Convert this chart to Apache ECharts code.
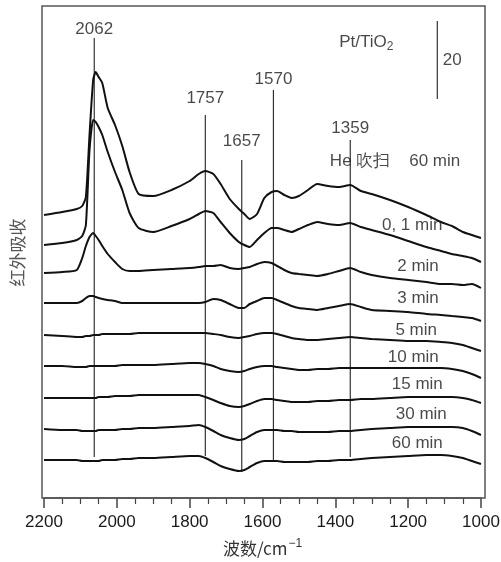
<!DOCTYPE html>
<html>
<head>
<meta charset="utf-8">
<script src="https://cdn.jsdelivr.net/npm/echarts@6/dist/echarts.min.js"></script>
<style>
html,body{margin:0;padding:0;background:#fff;}
#c{width:501px;height:562px;}
</style>
</head>
<body>
<div id="c"></div>
<script>
// Wavenumber grid (cm^-1)
const wavenumbers = [2200,2150,2110,2095,2085,2075,2065,2058,2050,2040,2025,2005,1985,1965,1940,1900,1850,1800,1775,1757,1735,1715,1690,1665,1650,1635,1615,1595,1575,1560,1540,1520,1500,1475,1450,1420,1390,1359,1330,1300,1250,1200,1150,1110,1080,1050,1025,1000];

// Offset IR absorbance traces (plot units, stacked)
const hePurge60 = [283,286,289,292,301,363,418,426,421,415,390,373,352,326,304,302,308,317,324,327,324,314,299,289,284,279,284,300,306,307,303,300,302,308,314,312,311,313,307,304,298,291,283,276,272,266,263,260];
const t0_1 = [253,255,258,262,273,348,378,376,371,363,346,326,308,285,270,266,272,279,284,287,285,276,265,256,253,251,258,265,270,270,268,266,269,273,276,274,273,275,271,268,263,257,251,247,244,242,240,236];
const t2 = [225,226,228,240,252,261,265,262,258,252,244,236,229,227,227,228,229,230,231,232,232,233,230,229,230,231,234,236,235,232,228,225,224,223,222,224,227,230,226,223,220,218,216,214,214,213,214,210];
const t3 = [195,195,195,197,200,202,202,201,200,199,198,197,195,195,195,195,195,195,195,196,199,198,194,190,190,194,197,200,200,198,195,192,190,189,188,190,192,194,191,188,187,186,184,183,182,181,180,177];
const t5 = [163,162,161,161,162,162,163,163,163,164,164,164,164,164,165,165,165,165,165,165,164,163,161,160,161,162,164,165,165,164,162,160,159,158,158,159,160,161,160,159,158,157,157,156,155,153,150,147];
const t10 = [132,132,131,131,131,132,132,132,132,132,132,132,133,133,133,133,134,135,135,134,132,129,127,126,127,129,131,132,132,131,130,129,128,128,129,129,130,130,130,130,130,130,130,130,129,127,124,120];
const t15 = [100,100,100,100,100,100,100,100,101,101,101,102,102,102,103,103,103,103,103,101,98,95,92,91,92,94,97,99,99,98,97,96,96,96,97,97,98,98,99,99,100,101,101,101,101,100,98,95];
const t30 = [69,68,68,67,67,67,67,67,68,68,68,68,69,69,70,70,71,72,73,71,67,63,60,58,59,62,66,68,68,68,67,67,66,66,66,66,67,67,68,69,70,71,71,71,71,70,67,63];
const t60 = [38,38,38,37,37,37,37,37,37,38,38,38,39,39,40,40,41,42,42,40,36,32,29,27,28,31,35,37,37,37,36,36,36,36,37,37,38,38,39,40,41,42,43,43,42,40,37,34];

const traces = [hePurge60, t0_1, t2, t3, t5, t10, t15, t30, t60];
const traceLabels = ['He 吹扫    60 min', '0, 1 min', '2 min', '3 min', '5 min', '10 min', '15 min', '30 min', '60 min'];

// Assigned bands
const peakWavenumbers = [2062, 1757, 1657, 1570, 1359];
const peakLineTop = [460, 383, 338, 408, 358];
const peakLineBottom = [41, 42, 26, 38, 41];

// Axis tick labels
const xTicks = [2200, 2000, 1800, 1600, 1400, 1200, 1000];

// Scale bar (20 units)
const scaleBarWn = 1120;
const scaleBarEnds = [399, 477];

// annotation anchor points (data coords)
const traceLabelAnchors = [[1236,337],[1189,273],[1173,232],[1173,200],[1178,168],[1186,141],[1175,114],[1164,84],[1175,55]];
const peakLabelHeights = [469, 400, 357, 419, 370];

const FONT = 'Liberation Sans, Arial, sans-serif';
const chart = echarts.init(document.getElementById('c'), null, {renderer:'canvas'});

const series = [];
traces.forEach((tr, i) => {
  series.push({
    type: 'line',
    data: wavenumbers.map((w, j) => [w, tr[j]]),
    symbol: 'none',
    smooth: 0.2,
    lineStyle: {color: '#111', width: 2},
    z: 3,
    silent: true
  });
});
peakWavenumbers.forEach((w, i) => {
  series.push({
    type: 'line',
    data: [[w, peakLineBottom[i]], [w, peakLineTop[i]]],
    symbol: 'none',
    lineStyle: {color: '#333', width: 1.2},
    z: 2,
    silent: true
  });
});
// scale bar
series.push({
  type: 'line',
  data: [[scaleBarWn, scaleBarEnds[0]], [scaleBarWn, scaleBarEnds[1]]],
  symbol: 'none',
  lineStyle: {color: '#333', width: 1.2},
  silent: true
});
// annotations
const annot = [];
peakWavenumbers.forEach((w, i) => annot.push({value:[w, peakLabelHeights[i]], label:{formatter: String(w)}}));
traceLabels.forEach((t, i) => annot.push({value: traceLabelAnchors[i], label:{formatter: t}}));
annot.push({value:[1315, 456], label:{formatter: '{n|Pt/TiO}{s|2}'}});
annot.push({value:[1079, 438], label:{formatter: '20'}});
series.push({
  type: 'scatter',
  data: annot,
  symbolSize: 0,
  silent: true,
  z: 5,
  label: {
    show: true, position: 'inside', color: '#1a1a1a', fontSize: 17, fontFamily: FONT,
    rich: {
      n: {fontSize: 17, fontFamily: FONT, color: '#1a1a1a'},
      s: {fontSize: 12, fontFamily: FONT, color: '#1a1a1a', padding: [10, 0, 0, 0]}
    }
  }
});

chart.setOption({
  animation: false,
  backgroundColor: '#fff',
  grid: {left: 44, right: 20, top: 7, bottom: 64, containLabel: false, outerBoundsMode: 'none'},
  xAxis: {
    type: 'value', min: 1000, max: 2200, interval: 200, inverse: true,
    axisLine: {show: true, lineStyle: {color: '#444', width: 1.5}},
    axisTick: {show: true, length: 10, lineStyle: {color: '#444', width: 1.5}},
    minorTick: {show: true, splitNumber: 4, length: 6, lineStyle: {color: '#444', width: 1.2}},
    axisLabel: {color: '#1a1a1a', fontSize: 17, fontFamily: FONT, margin: 16,
      formatter: v => String(v)},
    splitLine: {show: false},
    name: '{a|波数/cm}{b|−1}',
    nameLocation: 'middle', nameGap: 40,
    nameTextStyle: {
      rich: {
        a: {fontSize: 17, fontFamily: 'Noto Sans CJK SC, Liberation Sans, sans-serif', color: '#333'},
        b: {fontSize: 12, fontFamily: FONT, color: '#333', padding: [0, 0, 10, 1]}
      }
    }
  },
  yAxis: {
    type: 'value', min: 0, max: 491,
    axisLine: {show: false}, axisTick: {show: false}, axisLabel: {show: false}, splitLine: {show: false},
    name: '红外吸收', nameLocation: 'middle', nameRotate: 90, nameGap: 18,
    nameTextStyle: {fontSize: 17, fontFamily: 'Noto Sans CJK SC, sans-serif', color: '#555'}
  },
  graphic: [{
    type: 'rect', shape: {x: 42, y: 6, width: 443, height: 492},
    style: {fill: 'none', stroke: '#555', lineWidth: 1.5}, z: 10, silent: true
  }],
  series: series
});
</script>
</body>
</html>
